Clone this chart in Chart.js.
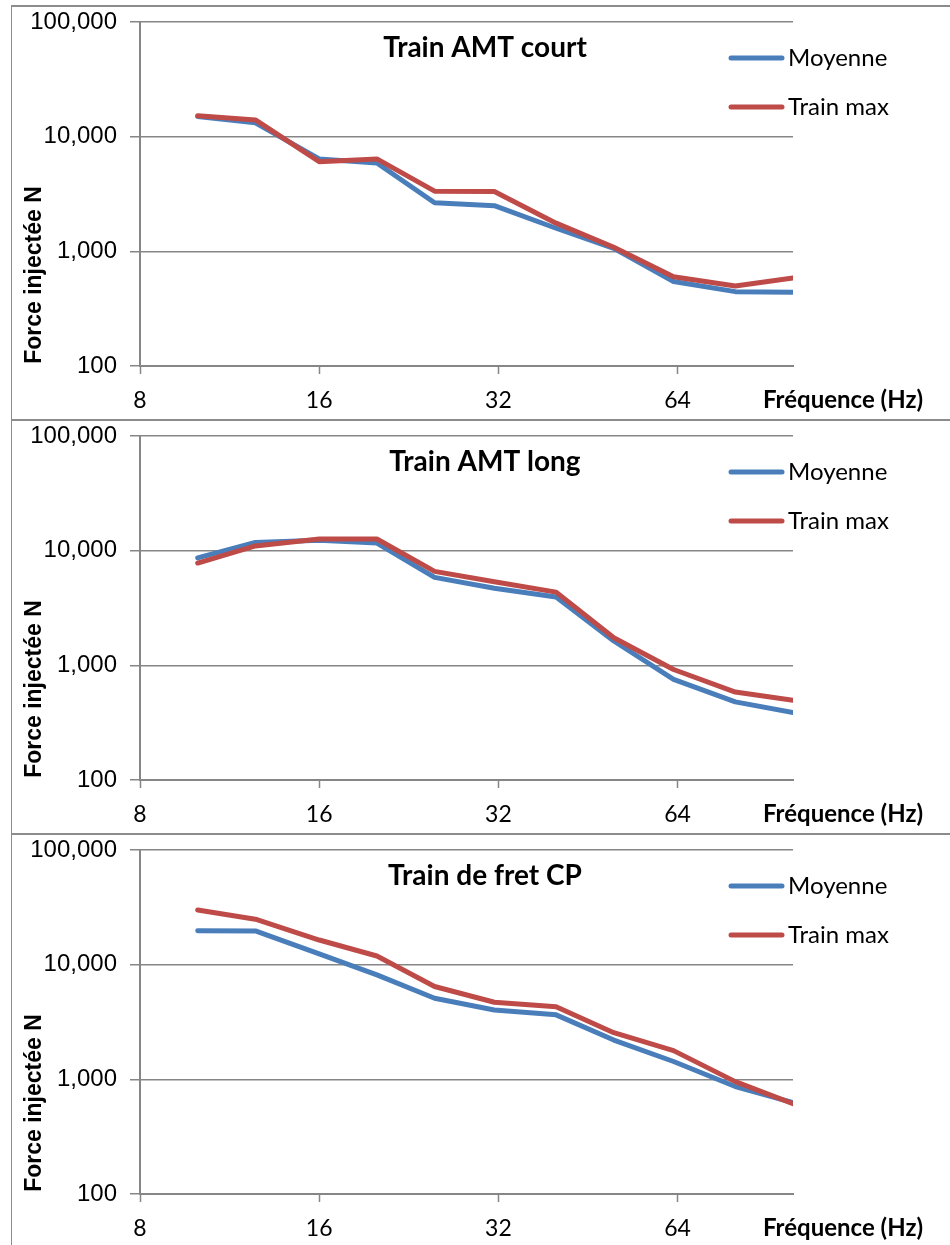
<!DOCTYPE html>
<html>
<head>
<meta charset="utf-8">
<script src="https://cdn.jsdelivr.net/npm/chart.js@4.4.1/dist/chart.umd.min.js"></script>
<style>
  body { margin: 0; background: #fff; width: 950px; height: 1245px; position: relative; overflow: hidden; }
  .panel { position: absolute; left: 12px; width: 938px; height: 410px; }
  .line { position: absolute; background: #8c8c8c; }
</style>
</head>
<body>
<div class="line" style="left:11px; top:5px; width:939px; height:2px;"></div>
<div class="line" style="left:11px; top:5px; width:1px; height:1240px;"></div>
<div class="line" style="left:11px; top:419px; width:939px; height:2px;"></div>
<div class="line" style="left:11px; top:833px; width:939px; height:2px;"></div>

<div class="panel" style="top:7px;"><canvas id="c0" width="938" height="410"></canvas></div>
<div class="panel" style="top:421px;"><canvas id="c1" width="938" height="410"></canvas></div>
<div class="panel" style="top:835px;"><canvas id="c2" width="938" height="410"></canvas></div>

<script>
// 1/3 octave centre frequencies (Hz)
const freqs = [10, 12.5, 16, 20, 25, 31.5, 40, 50, 63, 80, 100];
const xTicks = [8, 16, 32, 64];
const yTicks = [100, 1000, 10000, 100000];
const titles = ['Train AMT court', 'Train AMT long', 'Train de fret CP'];
const seriesNames = ['Moyenne', 'Train max'];

const courtMoyenne = [15000, 13200, 6400, 5900, 2650, 2500, 1590, 1060, 545, 445, 440];
const courtMax = [15200, 14000, 6050, 6400, 3350, 3330, 1760, 1085, 600, 498, 585];
const longMoyenne = [8650, 11800, 12300, 11650, 5850, 4700, 3950, 1630, 755, 480, 388];
const longMax = [7800, 11000, 12650, 12650, 6600, 5350, 4350, 1740, 920, 585, 496];
const fretMoyenne = [19800, 19700, 12400, 8150, 5100, 4030, 3650, 2200, 1430, 865, 628];
const fretMax = [30000, 24900, 16400, 11900, 6450, 4700, 4300, 2550, 1780, 955, 612];

const panels = [
    [courtMoyenne, courtMax],
    [longMoyenne, longMax],
    [fretMoyenne, fretMax]
];

const blue = '#4a7ebb';
const red = '#be4b48';
const gridGrey = '#868686';

// titles, legend and axis names drawn the Excel way
const decor = {
    id: 'decor',
    afterDraw(chart, args, opts) {
        const ctx = chart.ctx;
        const a = chart.chartArea;
        ctx.save();
        ctx.fillStyle = '#000';
        ctx.textBaseline = 'middle';

        ctx.font = 'bold 28px Lato';
        ctx.textAlign = 'center';
        ctx.fillText(opts.title, a.left + 345, a.top + 26);

        // legend
        ctx.textAlign = 'left';
        ctx.font = '24px Lato';
        chart.data.datasets.forEach((ds, i) => {
            const y = a.top + 36 + i * 49;
            ctx.strokeStyle = ds.borderColor;
            ctx.lineWidth = 5;
            ctx.lineCap = 'round';
            ctx.beginPath();
            ctx.moveTo(a.right - 62, y);
            ctx.lineTo(a.right - 11, y);
            ctx.stroke();
            ctx.fillText(ds.label, a.right - 5, y);
        });

        // x axis name
        ctx.font = 'bold 24px Lato';
        ctx.fillText('Fréquence (Hz)', a.right - 30, a.bottom + 34);

        // y axis name
        ctx.translate(23, a.top + 253);
        ctx.rotate(-Math.PI / 2);
        ctx.textAlign = 'center';
        ctx.font = 'bold 23px "Liberation Sans"';
        ctx.fillText('Force injectée N', 0, 0);
        ctx.restore();
    }
};

panels.forEach((series, p) => {
    new Chart(document.getElementById('c' + p), {
        type: 'line',
        data: {
            datasets: series.map((vals, i) => ({
                label: seriesNames[i],
                data: freqs.map((f, k) => ({ x: f, y: vals[k] })),
                borderColor: i === 0 ? blue : red,
                borderWidth: 5,
                pointRadius: 0,
                tension: 0,
                borderJoinStyle: 'round',
                borderCapStyle: 'round',
                order: i === 0 ? 1 : 0 // red on top
            }))
        },
        options: {
            responsive: false,
            animation: false,
            layout: { padding: { top: 15, right: 157, left: 0, bottom: 0 } },
            plugins: {
                legend: { display: false },
                tooltip: { enabled: false },
                decor: { title: titles[p] }
            },
            scales: {
                x: {
                    type: 'logarithmic',
                    min: 8,
                    max: 100,
                    afterBuildTicks: (scale) => { scale.ticks = xTicks.map(v => ({ value: v })); },
                    afterFit: (scale) => {
                        scale.height = 51;
                        scale.paddingLeft = 0;
                        scale.paddingRight = 0;
                    },
                    grid: { drawOnChartArea: false, tickLength: 8, tickColor: gridGrey, tickWidth: 1.5 },
                    border: { color: gridGrey, width: 2 },
                    ticks: {
                        autoSkip: false,
                        maxRotation: 0,
                        padding: 13,
                        color: '#000',
                        font: { family: 'Lato', size: 23 },
                        callback: (v) => String(v)
                    }
                },
                y: {
                    type: 'logarithmic',
                    min: 100,
                    max: 100000,
                    afterBuildTicks: (scale) => { scale.ticks = yTicks.map(v => ({ value: v })); },
                    afterFit: (scale) => {
                        scale.width = 128;
                        scale.paddingTop = 0;
                        scale.paddingBottom = 0;
                    },
                    grid: { color: gridGrey, lineWidth: 1.5, tickLength: 10, tickColor: gridGrey },
                    border: { color: gridGrey, width: 2 },
                    ticks: {
                        autoSkip: false,
                        padding: 13,
                        color: '#000',
                        font: { family: 'Liberation Sans', size: 24 },
                        callback: (v) => v.toLocaleString('en-US')
                    }
                }
            }
        },
        plugins: [decor]
    });
});
</script>
</body>
</html>
